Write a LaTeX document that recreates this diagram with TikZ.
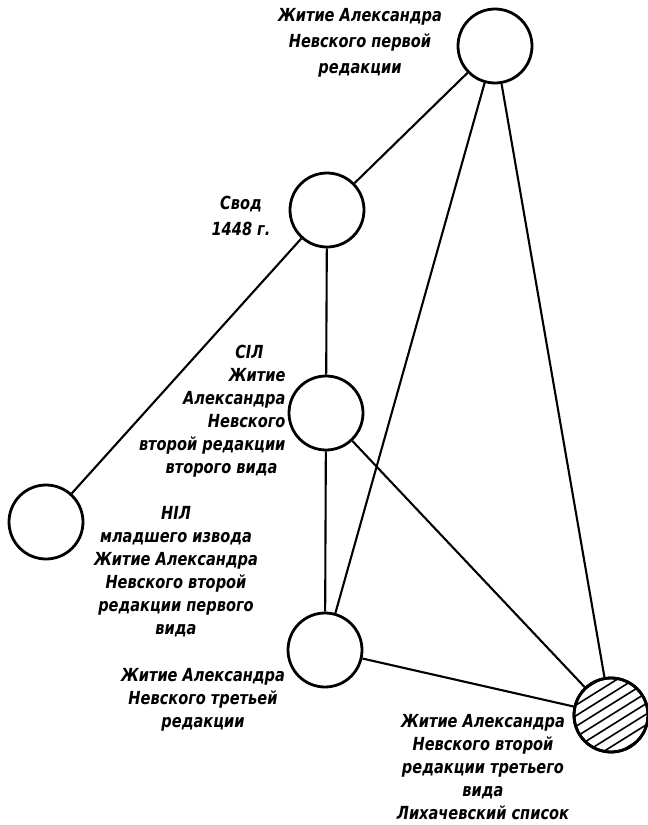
\documentclass[tikz,border=0pt]{standalone}
\usepackage{fontspec}
\setmainfont{DejaVu Sans Condensed}[FakeStretch=0.9]
\begin{document}
\begin{tikzpicture}[x=1pt,y=-1pt,
        src/.style={circle,draw,line width=2.8pt,minimum size=74pt,inner sep=0pt},
        edge/.style={line width=2.1pt},
        txt/.style={align=center,font=\bfseries\itshape\fontsize{18}{23}\selectfont}]
    \useasboundingbox (0,0) rectangle (648,825);
    % sources
    \node[src] (zhit1) at (495,46) {};
    \node[src] (svod) at (327,210) {};
    \node[src] (sil) at (326,413) {};
    \node[src] (nil) at (46,522) {};
    \node[src] (zhit3) at (325,650) {};
    \node[src] (likh) at (611,715) {};
    % hatching of the lost text
    \begin{scope}
        \clip (likh) circle (36pt);
        \foreach \k in {-45,-36,...,45}
            \draw[line width=1.6pt,shift={(likh)},rotate=32] (-50,\k) -- (50,\k);
    \end{scope}
    \node[src] at (likh) {};
    % labels
    \node[txt] (t1) at (360,43) {Житие Александра\\[3pt]Невского первой\\[3pt]редакции};
    \node[txt] (t2) at (241,216) {Свод\\[3pt]1448 г.};
    \node[txt,align=right,anchor=east] (t3) at (289,411) {СIЛ\hspace*{22pt}\\Житие\\Александра\\Невского\hspace*{6pt}\\второй редакции\\второго вида\hspace*{8pt}};
    \node[txt] (t4) at (176,572) {НIЛ\\младшего извода\\Житие Александра\\Невского второй\\редакции первого\\вида};
    \node[txt] (t5) at (203,700) {Житие Александра\\Невского третьей\\редакции};
    \node[txt] (t6) at (483,767) {Житие Александра\\Невского второй\\редакции третьего\\вида\\Лихачевский список};
    % links
    \draw[edge] (zhit1) -- (svod);
    \draw[edge] (zhit1) -- (zhit3);
    \draw[edge] (zhit1) -- (likh);
    \draw[edge] (svod) -- (sil);
    \draw[edge] (svod) -- (nil);
    \draw[edge] (sil) -- (zhit3);
    \draw[edge] (sil) -- (likh);
    \draw[edge] (zhit3) -- (likh);
\end{tikzpicture}
\end{document}
